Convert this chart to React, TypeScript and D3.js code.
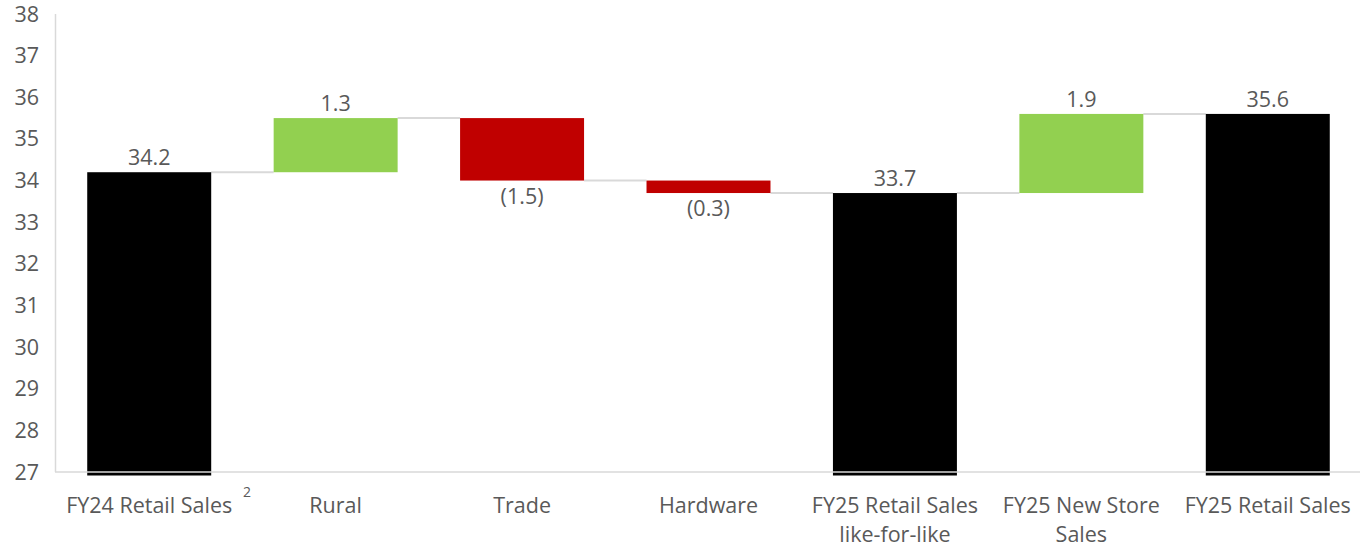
import React from "react";
import * as d3 from "d3";

const categories = [
  ["FY24 Retail Sales"],
  ["Rural"],
  ["Trade"],
  ["Hardware"],
  ["FY25 Retail Sales", "like-for-like"],
  ["FY25 New Store", "Sales"],
  ["FY25 Retail Sales"],
];
const values = [34.2, 1.3, -1.5, -0.3, 33.7, 1.9, 35.6];
const isTotal = [true, false, false, false, true, false, true];
const valueLabels = ["34.2", "1.3", "(1.5)", "(0.3)", "33.7", "1.9", "35.6"];
const yTicks = [27, 28, 29, 30, 31, 32, 33, 34, 35, 36, 37, 38];

const W = 1360;
const H = 547;
const TEXT = "#595959";
const GRID = "#d9d9d9";
const FONT = "'Open Sans', sans-serif";
const FS = 21.5;

export default function App() {
  const x = d3
    .scaleBand<number>()
    .domain(d3.range(categories.length))
    .range([56, 1361])
    .paddingInner(0.335)
    .paddingOuter(0.1675);
  const y = d3.scaleLinear().domain([27, 38]).range([472, 14]);

  let running = 0;
  const segs = values.map((v, i) => {
    let lo: number, hi: number, end: number;
    if (isTotal[i]) {
      lo = 27;
      hi = v;
      end = v;
    } else {
      const start = running;
      end = running + v;
      lo = Math.min(start, end);
      hi = Math.max(start, end);
    }
    running = end;
    return { i, lo, hi, end, v };
  });

  const colorOf = (i: number) =>
    isTotal[i] ? "#000000" : values[i] >= 0 ? "#92d050" : "#c00000";

  return (
    <svg width={W} height={H} style={{ display: "block", position: "absolute", left: 0, top: 0 }}>
      <rect width={W} height={H} fill="#fff" />
      <line x1={55.5} x2={55.5} y1={14} y2={472} stroke={GRID} strokeWidth={1.5} />
      {yTicks.map((t) => (
        <text
          key={t}
          x={39}
          y={y(t)}
          dy="0.35em"
          textAnchor="end"
          fontFamily={FONT}
          fontSize={FS}
          fill={TEXT}
        >
          {t}
        </text>
      ))}
      {segs.slice(0, -1).map((s, i) => (
        <line
          key={"c" + i}
          x1={(x(i) as number) + x.bandwidth()}
          x2={x(i + 1) as number}
          y1={y(s.end)}
          y2={y(s.end)}
          stroke={GRID}
          strokeWidth={2}
        />
      ))}
      {segs.map((s) => (
        <rect
          key={"b" + s.i}
          x={x(s.i)}
          width={x.bandwidth()}
          y={y(s.hi)}
          height={y(s.lo) - y(s.hi) + (isTotal[s.i] ? 3.5 : 0)}
          fill={colorOf(s.i)}
        />
      ))}
      <line x1={55} x2={1360} y1={472} y2={472} stroke={GRID} strokeWidth={1.5} />
      {segs.map((s) => {
        const cx = (x(s.i) as number) + x.bandwidth() / 2;
        const neg = !isTotal[s.i] && s.v < 0;
        return (
          <text
            key={"v" + s.i}
            x={cx}
            y={neg ? y(s.lo) + 23 : y(s.hi) - 7}
            textAnchor="middle"
            fontFamily={FONT}
            fontSize={FS}
            fill={TEXT}
          >
            {valueLabels[s.i]}
          </text>
        );
      })}
      {categories.map((lines, i) => {
        const cx = (x(i) as number) + x.bandwidth() / 2;
        return (
          <text
            key={"l" + i}
            x={cx}
            y={513}
            textAnchor="middle"
            fontFamily={FONT}
            fontSize={FS}
            fill={TEXT}
          >
            {lines.map((ln, k) => (
              <tspan key={k} x={cx} dy={k === 0 ? 0 : 29}>
                {ln}
              </tspan>
            ))}
          </text>
        );
      })}
      <text x={243} y={497} fontFamily={FONT} fontSize={14} fill={TEXT}>
        2
      </text>
    </svg>
  );
}
